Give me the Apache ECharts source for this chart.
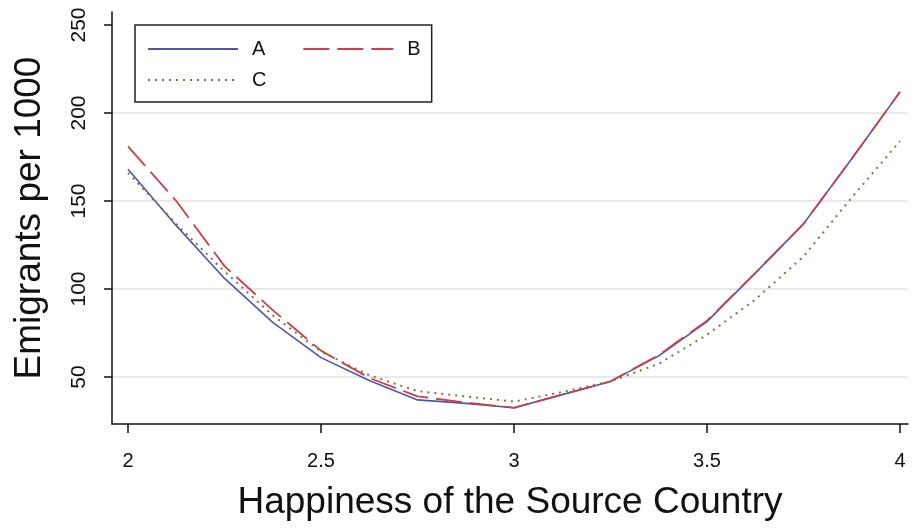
<!DOCTYPE html>
<html>
<head>
<meta charset="utf-8">
<script src="https://cdn.jsdelivr.net/npm/echarts@6/dist/echarts.min.js"></script>
<style>
html, body { margin: 0; padding: 0; background: #fff; }
#chart { width: 917px; height: 529px; }
</style>
</head>
<body>
<div id="chart"></div>
<script>
// happiness of the source country (x) and emigrants per 1000 for each model
const happiness = [2, 2.125, 2.25, 2.375, 2.5, 2.625, 2.75, 2.875, 3, 3.125, 3.25, 3.375, 3.5, 3.625, 3.75, 3.875, 4];
const seriesA = [168, 136, 106, 81, 61, 48, 37, 35, 32.5, 40, 47.5, 62, 81.5, 109, 137, 174, 212];
const seriesB = [181, 150, 113, 88, 65, 49.5, 39, 35.5, 32.5, 40, 47.5, 62.5, 82, 109, 137, 174, 212];
const seriesC = [166, 137, 110, 85, 64.5, 51, 42, 39, 36, 41.5, 47.5, 57.5, 74, 94, 118.5, 152, 184];
const xTicks = [2, 2.5, 3, 3.5, 4];
const yTicks = [50, 100, 150, 200, 250];

const font = 'Liberation Sans, Arial, sans-serif';
const toPairs = (ys) => happiness.map((x, i) => [x, ys[i]]);

const chart = echarts.init(document.getElementById('chart'));

const legendText = {
  color: '#111',
  fontFamily: font,
  fontSize: 20,
  lineHeight: 24,
  padding: [0, 0, 0, 9],
};

chart.setOption({
  animation: false,
  backgroundColor: '#fff',
  grid: { left: 112, right: 9, top: 12, bottom: 105 },
  legend: [
    {
      data: ['A', 'B'],
      left: 135,
      top: 25,
      orient: 'horizontal',
      itemWidth: 90,
      itemHeight: 14,
      itemGap: 37,
      padding: [12, 11, 41, 12],
      borderColor: '#222',
      borderWidth: 1.5,
      itemStyle: { opacity: 0 },
      textStyle: legendText,
    },
    {
      data: ['C'],
      left: 147,
      top: 68,
      itemWidth: 90,
      itemHeight: 14,
      padding: 0,
      itemStyle: { opacity: 0 },
      textStyle: legendText,
    },
  ],
  xAxis: {
    type: 'value',
    min: 1.9585,
    max: 4.0207,
    name: 'Happiness of the Source Country',
    nameLocation: 'middle',
    nameGap: 60,
    nameTextStyle: { fontFamily: font, fontSize: 37, color: '#111' },
    axisLine: { show: true, onZero: false, lineStyle: { color: '#111', width: 1.5 } },
    axisTick: { show: true, length: 9, customValues: xTicks, lineStyle: { color: '#111', width: 1.5 } },
    axisLabel: { customValues: xTicks, margin: 27, fontFamily: font, fontSize: 20, color: '#111' },
    splitLine: { show: false },
  },
  yAxis: {
    type: 'value',
    min: 23.3,
    max: 257.4,
    name: 'Emigrants per 1000',
    nameLocation: 'middle',
    nameGap: 64,
    nameTextStyle: { fontFamily: font, fontSize: 37, color: '#111' },
    axisLine: { show: true, onZero: false, lineStyle: { color: '#111', width: 1.5 } },
    axisTick: { show: true, length: 8, customValues: yTicks, lineStyle: { color: '#111', width: 1.5 } },
    axisLabel: { customValues: yTicks, rotate: 90, margin: 22, fontFamily: font, fontSize: 21, color: '#111' },
    splitLine: {
      show: true,
      lineStyle: { color: ['#e2e2e2', '#e2e2e2', '#e2e2e2', '#e2e2e2', 'rgba(0,0,0,0)'], width: 1.5 },
    },
  },
  series: [
    {
      name: 'A',
      type: 'line',
      data: toPairs(seriesA),
      symbol: 'none',
      color: '#4f58a2',
      lineStyle: { color: '#4f58a2', width: 1.6 },
      z: 2,
    },
    {
      name: 'B',
      type: 'line',
      data: toPairs(seriesB),
      symbol: 'none',
      color: '#c8414e',
      lineStyle: { color: '#c8414e', width: 1.8, type: [26, 8] },
      z: 3,
    },
    {
      name: 'C',
      type: 'line',
      data: toPairs(seriesC),
      symbol: 'none',
      color: '#737c3e',
      lineStyle: { color: '#737c3e', width: 2, type: [2, 5] },
      z: 4,
    },
  ],
});
</script>
</body>
</html>
